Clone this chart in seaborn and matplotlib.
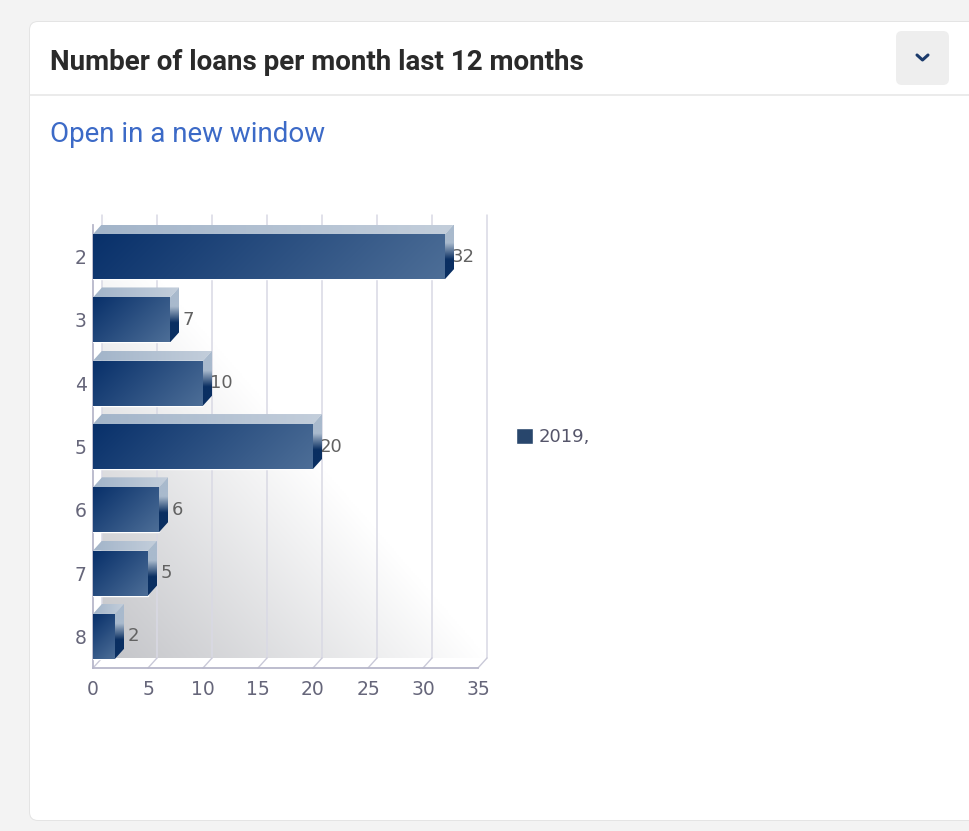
import numpy as np
import pandas as pd
import seaborn as sns
import matplotlib.pyplot as plt
from matplotlib.patches import FancyBboxPatch, Polygon
from matplotlib.colors import to_rgb

# ---------------------------------------------------------------------------
# Data read off the dashboard widget
# ---------------------------------------------------------------------------
months = ["2", "3", "4", "5", "6", "7", "8"]
loans = [32, 7, 10, 20, 6, 5, 2]
series = ["2019,"] * len(months)
x_ticks = [0, 5, 10, 15, 20, 25, 30, 35]

df = pd.DataFrame({"month": months, "loans": loans, "year": series})

sns.set_theme(style="white")
plt.rcParams["font.family"] = ["DejaVu Sans"]

W, H = 969, 831
fig = plt.figure(figsize=(W / 100, H / 100), dpi=100)
fig.patch.set_facecolor("#f3f3f3")

# ---------------------------------------------------------------------------
# Card background (pixel coordinates)
# ---------------------------------------------------------------------------
bg = fig.add_axes([0, 0, 1, 1])
bg.set_xlim(0, W)
bg.set_ylim(H, 0)
bg.axis("off")

bg.add_patch(FancyBboxPatch((29, 21), 962, 800, boxstyle="round,pad=0,rounding_size=9",
                            fc="#e4e4e4", ec="none", zorder=0))
bg.add_patch(FancyBboxPatch((30, 22), 960, 798, boxstyle="round,pad=0,rounding_size=8",
                            fc="white", ec="none", zorder=1))
bg.plot([30, W], [95, 95], color="#e8e8e8", lw=1.2, zorder=2)

bg.text(50, 63, "Number of loans per month last 12 months", fontsize=20,
        fontweight="bold", family="Roboto", color="#2a2a2a", va="center", zorder=3)
bg.text(50, 135, "Open in a new window", fontsize=20, family="Roboto",
        color="#3c6ac7", va="center", zorder=3)

# dropdown button
bg.add_patch(FancyBboxPatch((896, 31), 53, 54, boxstyle="round,pad=0,rounding_size=6",
                            fc="#eeeeee", ec="none", zorder=2))
bg.plot([917, 922.5, 928], [55, 60, 55], color="#1b3a6b", lw=2.2,
        solid_capstyle="round", solid_joinstyle="round", zorder=3)

# ---------------------------------------------------------------------------
# Chart axes: front plane of the pseudo-3D bar chart
# ---------------------------------------------------------------------------
left_px, right_px, top_px, bottom_px = 93, 478, 225, 668
ax = fig.add_axes([left_px / W, (H - bottom_px) / H,
                   (right_px - left_px) / W, (bottom_px - top_px) / H])
ax.set_zorder(2)
ax.patch.set_alpha(0)

sns.barplot(data=df, x="loans", y="month", hue="year", orient="h",
            palette=["#1d4577"], width=0.71, ax=ax, zorder=3)

xmax = x_ticks[-1]
n = len(months)
sx = (right_px - left_px) / xmax          # pixels per unit of x
sy = (bottom_px - top_px) / n             # pixels per category
dx = 9 / sx                               # depth offset in data units
dy = 10 / sy


def grad_image(xy, c0, c1, tfunc, z):
    """Fill a polygon (data coords) with a gradient image clipped to it."""
    poly = Polygon(xy, closed=True, fc="none", ec="none", zorder=z)
    ax.add_patch(poly)
    xs = [p[0] for p in xy]
    ys = [p[1] for p in xy]
    x0, x1, y0, y1 = min(xs), max(xs), min(ys), max(ys)
    wpx, hpx = (x1 - x0) * sx, (y1 - y0) * sy
    u, v = np.meshgrid(np.linspace(0, 1, 120), np.linspace(0, 1, 60))
    t = np.clip(tfunc(u, v, wpx, hpx), 0, 1)[..., None]
    img = np.array(to_rgb(c0)) * (1 - t) + np.array(to_rgb(c1)) * t
    im = ax.imshow(img, extent=(x0, x1, y1, y0), origin="upper", aspect="auto",
                   interpolation="bilinear", zorder=z)
    im.set_clip_path(poly)
    im.set_clip_on(True)
    return im


# back wall shading (grey in the lower-left corner, fading to white)
u, v = np.meshgrid(np.linspace(0, 1, 200), np.linspace(0, 1, 200))
d = (u + (1 - v)) / 2
tw = np.clip(d / 0.5, 0, 1)[..., None]
wall = np.array(to_rgb("#c3c4c8")) * (1 - tw) + np.array(to_rgb("#ffffff")) * tw
wim = ax.imshow(wall, extent=(dx, xmax + dx, n - 0.5 - dy, -0.5 - dy), origin="upper",
                aspect="auto", interpolation="bilinear", zorder=0.2)
wim.set_clip_on(False)

# grid lines on the back wall and depth lines on the floor
for t in x_ticks:
    ax.plot([t + dx, t + dx], [n - 0.5 - dy, -0.5 - dy], color="#d9d9e4", lw=1.1,
            clip_on=False, zorder=0.5)
    ax.plot([t, t + dx], [n - 0.5, n - 0.5 - dy], color="#c9c9d8", lw=1.0,
            clip_on=False, zorder=0.6)

# shaded faces of each bar
for bar in ax.patches:
    val = bar.get_width()
    y_top = bar.get_y()
    y_bot = y_top + bar.get_height()
    if val <= 0:
        continue
    front = [(0, y_top), (val, y_top), (val, y_bot), (0, y_bot)]
    grad_image(front, "#08306a", "#4d6e97",
               lambda u, v, w, h: (u * w + v * h) / (w + h), 3.1)
    top = [(0, y_top), (val, y_top), (val + dx, y_top - dy), (dx, y_top - dy)]
    grad_image(top, "#a2b4c9", "#c3cedb", lambda u, v, w, h: u, 3.2)
    side = [(val, y_top), (val + dx, y_top - dy), (val + dx, y_bot - dy), (val, y_bot)]
    grad_image(side, "#a9bacd", "#0a2f62", lambda u, v, w, h: (v - 0.35) / 0.3, 3.2)

# value labels, partly tucked behind the side faces
for i, val in enumerate(loans):
    ax.annotate(str(val), xy=(val, i), xytext=(13.3, 0), textcoords="offset points",
                ha="center", va="center", fontsize=13, color="#626262", zorder=1)

ax.set_xlim(0, xmax)
ax.set_ylim(n - 0.5, -0.5)
ax.set_xticks(x_ticks)
ax.set_xlabel("")
ax.set_ylabel("")
ax.tick_params(axis="x", length=0, pad=8.5, labelsize=13.5, labelcolor="#66667a")
ax.tick_params(axis="y", length=0, pad=4.5, labelsize=13.5, labelcolor="#66667a")
for side_name in ["top", "right"]:
    ax.spines[side_name].set_visible(False)
for side_name in ["left", "bottom"]:
    ax.spines[side_name].set_color("#b7b7ca")
    ax.spines[side_name].set_linewidth(1.3)
    ax.spines[side_name].set_zorder(2.5)

# legend to the right of the plot
handles, labels = ax.get_legend_handles_labels()
if ax.get_legend() is not None:
    ax.get_legend().remove()
fig.legend(handles, labels, loc="center left", bbox_to_anchor=(500 / W, 1 - 437 / H),
           frameon=False, fontsize=13, handlelength=0.95, handleheight=0.95,
           handletextpad=0.3, labelcolor="#55556a")

fig.savefig("out.png", dpi=100, facecolor=fig.get_facecolor())
